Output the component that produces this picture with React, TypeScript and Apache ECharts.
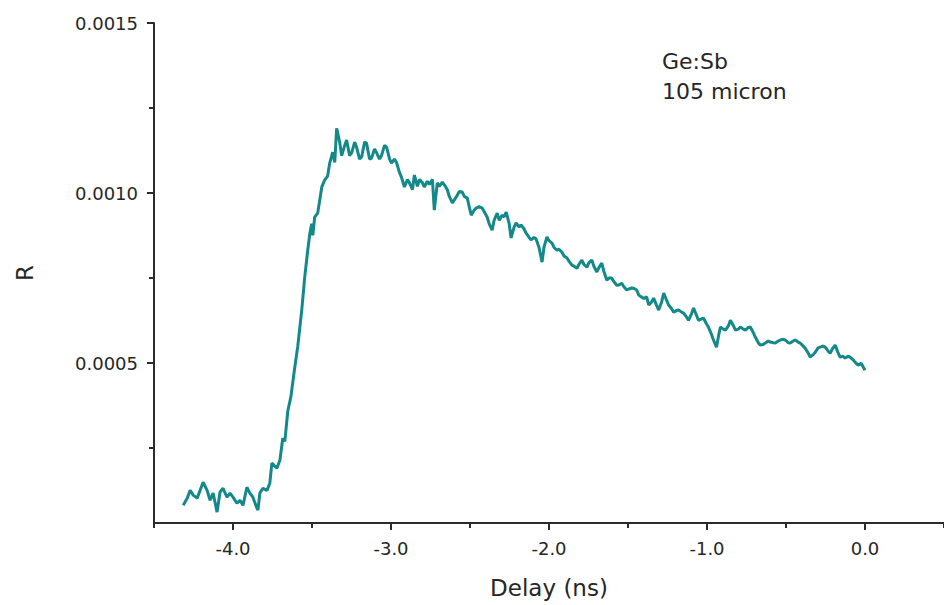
import React, { useEffect, useRef } from "react";
import * as echarts from "echarts";

// Delay (ns)
const delay = [
  -4.315, -4.29, -4.271, -4.252, -4.227, -4.208, -4.189, -4.164, -4.145, -4.126,
  -4.101, -4.082, -4.063, -4.038, -4.019, -4.0, -3.975, -3.956, -3.937, -3.912,
  -3.893, -3.874, -3.849, -3.842, -3.83, -3.811, -3.785, -3.767, -3.754, -3.722,
  -3.703, -3.685, -3.672, -3.653, -3.634, -3.609, -3.59, -3.565, -3.546, -3.527,
  -3.514, -3.502, -3.495, -3.483, -3.464, -3.438, -3.42, -3.401, -3.388, -3.369,
  -3.356, -3.344, -3.325, -3.312, -3.293, -3.281, -3.262, -3.249, -3.23, -3.218,
  -3.199, -3.186, -3.167, -3.155, -3.136, -3.123, -3.104, -3.091, -3.073, -3.06,
  -3.041, -3.028, -3.009, -2.997, -2.978, -2.965, -2.946, -2.934, -2.915, -2.896,
  -2.883, -2.864, -2.852, -2.833, -2.82, -2.801, -2.789, -2.77, -2.757, -2.738,
  -2.726, -2.707, -2.694, -2.675, -2.656, -2.643, -2.631, -2.612, -2.599, -2.58,
  -2.568, -2.549, -2.536, -2.517, -2.505, -2.492, -2.473, -2.461, -2.442, -2.423,
  -2.41, -2.391, -2.379, -2.36, -2.347, -2.328, -2.315, -2.297, -2.284, -2.271,
  -2.252, -2.24, -2.221, -2.208, -2.189, -2.177, -2.158, -2.145, -2.126, -2.114,
  -2.095, -2.082, -2.063, -2.044, -2.032, -2.013, -2.0, -1.981, -1.968, -1.95,
  -1.937, -1.918, -1.905, -1.886, -1.874, -1.855, -1.842, -1.823, -1.811, -1.792,
  -1.779, -1.76, -1.748, -1.729, -1.716, -1.697, -1.685, -1.666, -1.653, -1.634,
  -1.621, -1.603, -1.59, -1.571, -1.558, -1.539, -1.527, -1.508, -1.495, -1.476,
  -1.464, -1.445, -1.432, -1.413, -1.401, -1.382, -1.369, -1.35, -1.338, -1.319,
  -1.306, -1.287, -1.274, -1.256, -1.243, -1.224, -1.211, -1.192, -1.18, -1.161,
  -1.148, -1.129, -1.117, -1.098, -1.085, -1.066, -1.054, -1.035, -1.022, -1.003,
  -0.991, -0.972, -0.959, -0.94, -0.927, -0.915, -0.896, -0.883, -0.864, -0.852,
  -0.833, -0.82, -0.801, -0.789, -0.77, -0.757, -0.738, -0.726, -0.707, -0.694,
  -0.675, -0.663, -0.644, -0.631, -0.612, -0.599, -0.58, -0.568, -0.549, -0.536,
  -0.517, -0.505, -0.486, -0.473, -0.454, -0.442, -0.423, -0.41, -0.391, -0.379,
  -0.36, -0.347, -0.328, -0.315, -0.297, -0.284, -0.265, -0.252, -0.233, -0.221,
  -0.202, -0.189, -0.17, -0.158, -0.139, -0.126, -0.107, -0.095, -0.076, -0.063,
  -0.044, -0.025, -0.013, 0.0,
];

// R
const rValues = [
  0.82e-4, 1.03e-4, 1.26e-4, 1.12e-4, 1.03e-4, 1.26e-4, 1.5e-4, 1.26e-4, 0.97e-4, 1.18e-4,
  0.62e-4, 1.21e-4, 1.32e-4, 1.06e-4, 1.18e-4, 1.06e-4, 0.88e-4, 0.97e-4, 0.82e-4, 1.35e-4,
  1.18e-4, 1.06e-4, 0.74e-4, 0.68e-4, 1.18e-4, 1.32e-4, 1.26e-4, 1.47e-4, 2.06e-4, 1.91e-4,
  2.15e-4, 2.79e-4, 2.7e-4, 3.6e-4, 4.0e-4, 4.88e-4, 5.5e-4, 6.56e-4, 7.53e-4, 8.32e-4,
  8.8e-4, 9.1e-4, 8.76e-4, 9.29e-4, 9.41e-4, 10.18e-4, 10.38e-4, 10.5e-4, 10.88e-4, 11.2e-4,
  10.9e-4, 11.9e-4, 11.5e-4, 11.1e-4, 11.4e-4, 11.56e-4, 11.1e-4, 11.18e-4, 11.5e-4, 11.35e-4,
  11.0e-4, 11.06e-4, 11.5e-4, 11.47e-4, 11.0e-4, 11.03e-4, 11.3e-4, 11.18e-4, 11.0e-4, 11.1e-4,
  11.4e-4, 11.35e-4, 11.0e-4, 10.88e-4, 11.0e-4, 10.9e-4, 10.6e-4, 10.47e-4, 10.18e-4, 10.4e-4,
  10.3e-4, 10.1e-4, 10.53e-4, 10.2e-4, 10.4e-4, 10.3e-4, 10.18e-4, 10.35e-4, 10.25e-4, 10.4e-4,
  9.5e-4, 10.3e-4, 10.2e-4, 10.32e-4, 10.2e-4, 10.09e-4, 9.9e-4, 9.71e-4, 9.8e-4, 9.94e-4,
  10.05e-4, 10.03e-4, 9.9e-4, 9.85e-4, 9.6e-4, 9.35e-4, 9.5e-4, 9.56e-4, 9.6e-4, 9.56e-4,
  9.45e-4, 9.29e-4, 9.1e-4, 8.91e-4, 9.2e-4, 9.41e-4, 9.2e-4, 9.35e-4, 9.3e-4, 9.44e-4,
  9.1e-4, 8.68e-4, 9.0e-4, 9.12e-4, 9.0e-4, 9.06e-4, 8.95e-4, 8.82e-4, 8.7e-4, 8.62e-4,
  8.7e-4, 8.65e-4, 8.4e-4, 7.97e-4, 8.4e-4, 8.71e-4, 8.6e-4, 8.53e-4, 8.4e-4, 8.32e-4,
  8.35e-4, 8.26e-4, 8.15e-4, 8.09e-4, 8.0e-4, 7.88e-4, 7.85e-4, 7.79e-4, 7.9e-4, 8.03e-4,
  7.9e-4, 7.82e-4, 7.95e-4, 8.03e-4, 7.85e-4, 7.68e-4, 7.8e-4, 7.94e-4, 7.7e-4, 7.44e-4,
  7.5e-4, 7.5e-4, 7.4e-4, 7.29e-4, 7.3e-4, 7.35e-4, 7.25e-4, 7.15e-4, 7.18e-4, 7.21e-4,
  7.2e-4, 7.15e-4, 7.0e-4, 6.94e-4, 6.9e-4, 6.95e-4, 6.71e-4, 6.8e-4, 6.91e-4, 6.7e-4,
  6.56e-4, 6.8e-4, 7.06e-4, 6.85e-4, 6.71e-4, 6.6e-4, 6.5e-4, 6.55e-4, 6.56e-4, 6.5e-4,
  6.47e-4, 6.35e-4, 6.26e-4, 6.45e-4, 6.62e-4, 6.4e-4, 6.26e-4, 6.3e-4, 6.32e-4, 6.15e-4,
  6.06e-4, 5.85e-4, 5.68e-4, 5.47e-4, 5.8e-4, 6.06e-4, 6.0e-4, 5.97e-4, 6.1e-4, 6.26e-4,
  6.1e-4, 5.97e-4, 6.0e-4, 6.06e-4, 6.0e-4, 5.97e-4, 6.05e-4, 6.06e-4, 5.9e-4, 5.76e-4,
  5.6e-4, 5.53e-4, 5.55e-4, 5.59e-4, 5.65e-4, 5.62e-4, 5.6e-4, 5.59e-4, 5.65e-4, 5.68e-4,
  5.7e-4, 5.68e-4, 5.6e-4, 5.59e-4, 5.65e-4, 5.68e-4, 5.62e-4, 5.59e-4, 5.5e-4, 5.44e-4,
  5.3e-4, 5.18e-4, 5.25e-4, 5.32e-4, 5.45e-4, 5.47e-4, 5.5e-4, 5.47e-4, 5.35e-4, 5.29e-4,
  5.45e-4, 5.53e-4, 5.3e-4, 5.18e-4, 5.2e-4, 5.15e-4, 5.2e-4, 5.18e-4, 5.1e-4, 5.03e-4,
  4.94e-4, 5.0e-4, 4.9e-4, 4.79e-4,
];

const xLabelValues = [-4, -3, -2, -1, 0];
const xMinorValues = [-4.5, -3.5, -2.5, -1.5, -0.5, 0.5];
const yLabelValues = [0.0005, 0.001, 0.0015];
const yMinorValues = [0.00025, 0.00075, 0.00125];
const annotation = ["Ge:Sb", "105 micron"];

const X_MIN = -4.5;
const X_MAX = 0.5;
const Y_MIN = 0.00003;
const Y_MAX = 0.0015;

const FONT = "DejaVu Sans";
const AXIS_COLOR = "#2b2b2b";
const TEXT_COLOR = "#262626";
const LINE_COLOR = "#14898a";

export default function App() {
  const ref = useRef<HTMLDivElement>(null);

  useEffect(() => {
    if (!ref.current) return;
    const chart = echarts.init(ref.current, null, { renderer: "svg" });
    const gridPos = { left: 154, top: 23, right: -2, bottom: 82 };
    const option: any = {
      animation: false,
      backgroundColor: "#ffffff",
      grid: [
        { ...gridPos, containLabel: false },
        { ...gridPos, containLabel: false },
      ],
      xAxis: [
        {
          type: "value",
          gridIndex: 0,
          min: X_MIN,
          max: X_MAX,
          position: "bottom",
          splitLine: { show: false },
          axisLine: { show: true, onZero: false, lineStyle: { color: AXIS_COLOR, width: 2 } },
          axisTick: {
            show: true,
            inside: false,
            length: 7,
            customValues: xLabelValues,
            lineStyle: { color: AXIS_COLOR, width: 2 },
          },
          axisLabel: {
            show: true,
            customValues: xLabelValues,
            formatter: (v: number) => v.toFixed(1),
            color: TEXT_COLOR,
            fontFamily: FONT,
            fontSize: 18,
            margin: 16,
          },
          name: "Delay (ns)",
          nameLocation: "middle",
          nameGap: 53,
          nameTextStyle: { color: TEXT_COLOR, fontFamily: FONT, fontSize: 23 },
        },
        {
          type: "value",
          gridIndex: 1,
          min: X_MIN,
          max: X_MAX,
          position: "bottom",
          splitLine: { show: false },
          axisLine: { show: false, onZero: false },
          axisTick: {
            show: true,
            inside: false,
            length: 5,
            customValues: xMinorValues,
            lineStyle: { color: AXIS_COLOR, width: 2 },
          },
          axisLabel: { show: false },
        },
      ],
      yAxis: [
        {
          type: "value",
          gridIndex: 0,
          min: Y_MIN,
          max: Y_MAX,
          position: "left",
          splitLine: { show: false },
          axisLine: { show: true, onZero: false, lineStyle: { color: AXIS_COLOR, width: 2 } },
          axisTick: {
            show: true,
            inside: false,
            length: 7,
            customValues: yLabelValues,
            lineStyle: { color: AXIS_COLOR, width: 2 },
          },
          axisLabel: {
            show: true,
            customValues: yLabelValues,
            showMaxLabel: true,
            formatter: (v: number) => v.toFixed(4),
            color: TEXT_COLOR,
            fontFamily: FONT,
            fontSize: 18,
            margin: 16,
          },
          name: "R",
          nameLocation: "middle",
          nameGap: 118,
          nameTextStyle: { color: TEXT_COLOR, fontFamily: FONT, fontSize: 23 },
        },
        {
          type: "value",
          gridIndex: 1,
          min: Y_MIN,
          max: Y_MAX,
          position: "left",
          splitLine: { show: false },
          axisLine: { show: false, onZero: false },
          axisTick: {
            show: true,
            inside: false,
            length: 5,
            customValues: yMinorValues,
            lineStyle: { color: AXIS_COLOR, width: 2 },
          },
          axisLabel: { show: false },
        },
      ],
      graphic: [
        {
          type: "text",
          left: 662,
          top: 46,
          style: {
            text: annotation.join("\n"),
            fontFamily: FONT,
            fontSize: 22,
            lineHeight: 30,
            fill: TEXT_COLOR,
          },
        },
      ],
      series: [
        {
          type: "line",
          xAxisIndex: 0,
          yAxisIndex: 0,
          data: delay.map((d, i) => [d, rValues[i]]),
          showSymbol: false,
          symbol: "none",
          lineStyle: { color: LINE_COLOR, width: 3 },
          itemStyle: { color: LINE_COLOR },
        },
      ],
    };
    chart.setOption(option);
    return () => chart.dispose();
  }, []);

  return (
    <div
      ref={ref}
      style={{ position: "fixed", left: 0, top: 0, width: 944, height: 605, background: "#fff" }}
    />
  );
}
